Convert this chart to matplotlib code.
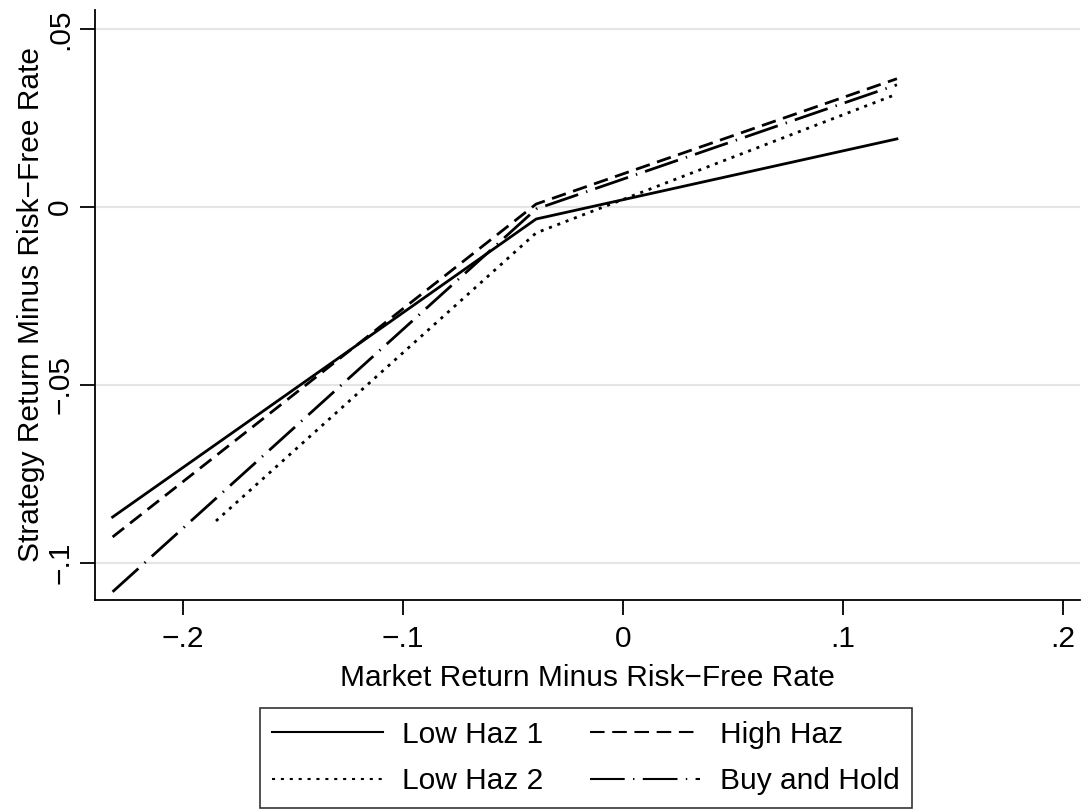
import matplotlib.pyplot as plt

plt.rcParams['font.family'] = ['Liberation Sans', 'DejaVu Sans']
plt.rcParams['lines.scale_dashes'] = False

# 读取图中的数值 (市场超额收益, 策略超额收益)
x_low1 = [-0.232, -0.0395, 0.1245]
y_low1 = [-0.0871, -0.0034, 0.0191]

x_high = [-0.232, -0.0395, 0.1245]
y_high = [-0.0927, 0.0008, 0.0360]

x_low2 = [-0.185, -0.0395, 0.1245]
y_low2 = [-0.0882, -0.0073, 0.0317]

x_bh = [-0.232, -0.0395, 0.1245]
y_bh = [-0.1081, -0.0006, 0.0343]

xticks = [-0.2, -0.1, 0, 0.1, 0.2]
xticklabels = ['\u2212.2', '\u2212.1', '0', '.1', '.2']
yticks = [-0.1, -0.05, 0, 0.05]
yticklabels = ['\u2212.1', '\u2212.05', '0', '.05']

fs = 21.5

fig = plt.figure(figsize=(10.82, 8.09), dpi=100)
ax = fig.add_axes([95 / 1082, 1 - 600 / 809, 985 / 1082, 590 / 809])

lw = 2.0
ax.plot(x_low1, y_low1, color='black', lw=lw, label='Low Haz 1')
ax.plot(x_high, y_high, color='black', lw=lw, dashes=(10.5, 5.5), label='High Haz')
ax.plot(x_low2, y_low2, color='black', lw=lw, dashes=(2.2, 4.2), label='Low Haz 2')
ax.plot(x_bh, y_bh, color='black', lw=lw, dashes=(25, 6, 1, 6), label='Buy and Hold')

ax.set_xlim(-0.24, 0.2077)
ax.set_ylim(-0.1104, 0.0553)

ax.set_xticks(xticks)
ax.set_xticklabels(xticklabels)
ax.set_yticks(yticks)
ax.set_yticklabels(yticklabels, rotation=90, va='center')

ax.grid(axis='y', color='#e5e5e5', lw=1.5)
ax.set_axisbelow(True)
for s in ['top', 'right']:
    ax.spines[s].set_visible(False)
for s in ['left', 'bottom']:
    ax.spines[s].set_linewidth(1.3)
ax.tick_params(length=11, width=1.3, labelsize=fs, pad=5)
ax.tick_params(axis='x', pad=7)
ax.tick_params(axis='y', pad=4)

ax.set_xlabel('Market Return Minus Risk\u2212Free Rate', fontsize=fs, labelpad=8)
ax.set_ylabel('Strategy Return Minus Risk\u2212Free Rate', fontsize=fs, labelpad=1)

# 图例
handles, labels = ax.get_legend_handles_labels()
order = [0, 2, 1, 3]
leg = fig.legend([handles[i] for i in order], [labels[i] for i in order],
                 ncol=2, loc='center', bbox_to_anchor=(586 / 1082, 1 - 758 / 809),
                 fontsize=fs, frameon=True, fancybox=False, edgecolor='black',
                 handlelength=3.7, handletextpad=0.65, columnspacing=1.55,
                 labelspacing=0.62, borderpad=0.42)
leg.get_frame().set_linewidth(1.2)
for line in leg.get_lines():
    line.set_linewidth(1.5)

plt.savefig('out.png', dpi=100)
